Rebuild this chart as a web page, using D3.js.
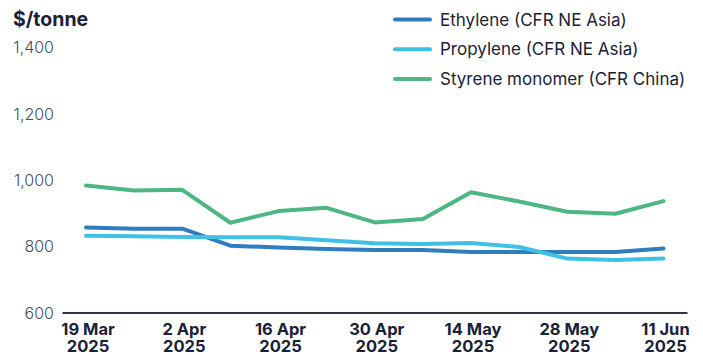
<!DOCTYPE html>
<html>
<head>
<meta charset="utf-8">
<script src="https://cdn.jsdelivr.net/npm/d3@7"></script>
<style>
  html, body { margin: 0; padding: 0; background: #fff; }
  svg { display: block; font-family: Inter, "Noto Sans", sans-serif; }
</style>
</head>
<body>
<svg id="chart" width="703" height="355"></svg>
<script>
// Weekly price assessments, $/tonne
const dates = ["2025-03-19","2025-03-26","2025-04-02","2025-04-09","2025-04-16","2025-04-23","2025-04-30",
               "2025-05-07","2025-05-14","2025-05-21","2025-05-28","2025-06-04","2025-06-11"];
const ethylene  = [858, 854, 854, 803, 797, 793, 790, 790, 784, 784, 784, 784, 794];
const propylene = [833, 831, 829, 828, 828, 819, 810, 808, 811, 799, 764, 760, 764];
const styrene   = [984, 969, 971, 872, 907, 917, 873, 883, 964, 936, 905, 899, 937];
const seriesNames = ["Ethylene (CFR NE Asia)", "Propylene (CFR NE Asia)", "Styrene monomer (CFR China)"];
const seriesColors = ["#2f7cc0", "#41c0e6", "#4db784"];
const yTicks = [600, 800, 1000, 1200, 1400];
const xTickDates = ["2025-03-19","2025-04-02","2025-04-16","2025-04-30","2025-05-14","2025-05-28","2025-06-11"];

const parse = d3.utcParse("%Y-%m-%d");
const series = [ethylene, propylene, styrene].map((vals, i) => ({
  name: seriesNames[i],
  color: seriesColors[i],
  points: vals.map((v, j) => ({ date: parse(dates[j]), value: v }))
}));

const svg = d3.select("#chart");

const x = d3.scaleUtc()
  .domain([parse(dates[0]), parse(dates[dates.length - 1])])
  .range([86, 663.5]);
const y = d3.scaleLinear().domain([600, 1400]).range([313, 47.5]);

// Unit title
svg.append("text")
  .attr("x", 13).attr("y", 25.5)
  .attr("font-size", 19.5).attr("font-weight", 700)
  .attr("fill", "#1b2236")
  .text("$/tonne");

// Y axis labels (no axis line)
const yAxis = d3.axisLeft(y).tickValues(yTicks).tickSize(0).tickPadding(0)
  .tickFormat(d3.format(","));
const gy = svg.append("g").attr("transform", "translate(54,0)").call(yAxis);
gy.select(".domain").remove();
gy.selectAll("text")
  .attr("font-family", "Inter, sans-serif")
  .attr("font-size", 16).attr("font-weight", 300)
  .attr("fill", "#4a4d57");

// X axis with baseline
const xAxis = d3.axisBottom(x)
  .tickValues(xTickDates.map(parse))
  .tickSize(0).tickPadding(0)
  .tickFormat(() => "");
const gx = svg.append("g").attr("transform", "translate(0,313)").call(xAxis);
gx.select(".domain").attr("d", "M62.5,0H687.5").attr("stroke", "#333640").attr("stroke-width", 2);
gx.selectAll(".tick text").remove();
gx.selectAll(".tick").each(function(d) {
  const t = d3.select(this).append("text")
    .attr("text-anchor", "middle")
    .attr("font-family", "Inter, sans-serif")
    .attr("font-size", 16.5).attr("font-weight", 700)
    .attr("fill", "#1b2236");
  t.append("tspan").attr("x", 1.5).attr("y", 22.3).text(d3.utcFormat("%-d %b")(d));
  t.append("tspan").attr("x", 1.5).attr("y", 38.7).text(d3.utcFormat("%Y")(d));
});

// Lines
const line = d3.line().x(d => x(d.date)).y(d => y(d.value));
svg.append("g").selectAll("path")
  .data(series)
  .join("path")
  .attr("d", d => line(d.points))
  .attr("fill", "none")
  .attr("stroke", d => d.color)
  .attr("stroke-width", 4)
  .attr("stroke-linejoin", "round")
  .attr("stroke-linecap", "round");

// Legend
const legend = svg.append("g").selectAll("g")
  .data(series)
  .join("g")
  .attr("transform", (d, i) => `translate(395,${19.5 + i * 29.7})`);
legend.append("line")
  .attr("x1", 0).attr("x2", 35)
  .attr("stroke", d => d.color).attr("stroke-width", 4)
  .attr("stroke-linecap", "round");
legend.append("text")
  .attr("x", 45).attr("y", 0).attr("dy", "0.36em")
  .attr("font-size", 17).attr("font-weight", 400)
  .attr("fill", "#1b2236")
  .text(d => d.name);
</script>
</body>
</html>
